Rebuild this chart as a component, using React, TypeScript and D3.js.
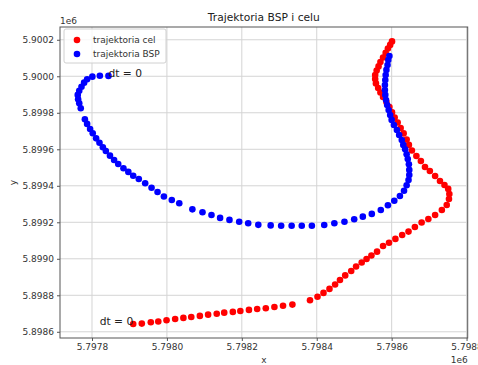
import React, { useEffect, useRef } from 'react';
import * as d3 from 'd3';

// target trajectory (trajektoria cel), metres
const celX = [
  5797910, 5797933, 5797957, 5797977, 5797999, 5798022, 5798044, 5798065, 5798088, 5798110,
  5798133, 5798153, 5798176, 5798196, 5798219, 5798241, 5798264, 5798287, 5798310, 5798335,
  5798382, 5798402, 5798418, 5798434, 5798449, 5798462, 5798476, 5798492, 5798505, 5798520,
  5798533, 5798546, 5798561, 5798577, 5798593, 5798610, 5798628, 5798645, 5798662, 5798680,
  5798698, 5798716, 5798734, 5798747, 5798753, 5798754, 5798751, 5798741, 5798729, 5798716,
  5798702, 5798689, 5798678, 5798666, 5798654, 5798646, 5798640, 5798632, 5798624, 5798616,
  5798608, 5798601, 5798594, 5798586, 5798577, 5798570, 5798564, 5798558, 5798556, 5798556,
  5798560, 5798565, 5798570, 5798577, 5798584, 5798590, 5798596, 5798601,
];
const celY = [
  5898643, 5898645, 5898652, 5898656, 5898663, 5898670, 5898676, 5898681, 5898687, 5898694,
  5898699, 5898705, 5898709, 5898714, 5898720, 5898725, 5898729, 5898736, 5898743, 5898749,
  5898773, 5898792, 5898813, 5898835, 5898859, 5898884, 5898909, 5898933, 5898958, 5898980,
  5898999, 5899018, 5899039, 5899070, 5899088, 5899109, 5899130, 5899149, 5899174, 5899199,
  5899218, 5899240, 5899267, 5899295, 5899328, 5899355, 5899383, 5899404, 5899426, 5899454,
  5899481, 5899503, 5899536, 5899563, 5899593, 5899624, 5899654, 5899687, 5899717, 5899747,
  5899774, 5899802, 5899832, 5899859, 5899887, 5899911, 5899936, 5899961, 5899985, 5900007,
  5900032, 5900054, 5900078, 5900103, 5900128, 5900152, 5900172, 5900191,
];

// BSP trajectory (trajektoria BSP)
const bspX = [
  5797844, 5797821, 5797801, 5797787, 5797779, 5797772, 5797766, 5797762, 5797763, 5797766,
  5797770, 5797781, 5797787, 5797795, 5797802, 5797811, 5797820, 5797829, 5797837, 5797848,
  5797859, 5797870, 5797884, 5797897, 5797910, 5797925, 5797942, 5797959, 5797975, 5797992,
  5798013, 5798033, 5798068, 5798095, 5798119, 5798142, 5798167, 5798193, 5798217, 5798244,
  5798277, 5798305, 5798333, 5798360, 5798387, 5798420, 5798447, 5798474, 5798500, 5798523,
  5798547, 5798571, 5798590, 5798607, 5798622, 5798633, 5798640, 5798645, 5798647, 5798647,
  5798646, 5798643, 5798640, 5798636, 5798631, 5798627, 5798620, 5798614, 5798606, 5798600,
  5798596, 5798592, 5798588, 5798585, 5798583, 5798582, 5798582, 5798583, 5798584, 5798586,
  5798589, 5798591, 5798594,
];
const bspY = [
  5900002, 5900003, 5899998, 5899984, 5899965, 5899943, 5899921, 5899898, 5899874, 5899852,
  5899825, 5899764, 5899739, 5899711, 5899688, 5899660, 5899636, 5899611, 5899591, 5899565,
  5899541, 5899519, 5899496, 5899476, 5899455, 5899437, 5899414, 5899389, 5899366, 5899341,
  5899322, 5899304, 5899271, 5899255, 5899240, 5899224, 5899213, 5899203, 5899195, 5899186,
  5899183, 5899181, 5899181, 5899181, 5899181, 5899185, 5899195, 5899203, 5899217, 5899231,
  5899246, 5899267, 5899293, 5899318, 5899344, 5899373, 5899403, 5899432, 5899459, 5899487,
  5899518, 5899547, 5899573, 5899600, 5899624, 5899651, 5899678, 5899706, 5899733, 5899761,
  5899788, 5899815, 5899843, 5899870, 5899898, 5899925, 5899952, 5899980, 5900007, 5900035,
  5900062, 5900089, 5900111,
];

const xTicks = [5797800, 5798000, 5798200, 5798400, 5798600, 5798800];
const yTicks = [5898600, 5898800, 5899000, 5899200, 5899400, 5899600, 5899800, 5900000, 5900200];
const legendLabels = ['trajektoria cel', 'trajektoria BSP'];
const colors = ['#ff0000', '#0000ff'];

const App: React.FC = () => {
  const svgRef = useRef<SVGSVGElement | null>(null);

  useEffect(() => {
    if (!svgRef.current) return;
    const width = 478;
    const height = 365;
    const margin = { top: 27, right: 10.3, bottom: 27, left: 60 };
    const font = 'DejaVu Sans, sans-serif';

    const svg = d3.select(svgRef.current);
    svg.selectAll('*').remove();

    const x = d3.scaleLinear().domain([5797714.6, 5798803]).range([margin.left, width - margin.right]);
    const y = d3.scaleLinear().domain([5898566, 5900270]).range([height - margin.bottom, margin.top]);

    const g = svg.append('g');

    // grid
    g.selectAll('.gx').data(xTicks).enter().append('line')
      .attr('x1', d => x(d)).attr('x2', d => x(d))
      .attr('y1', margin.top).attr('y2', height - margin.bottom)
      .attr('stroke', '#d4d4d4').attr('stroke-width', 1);
    g.selectAll('.gy').data(yTicks).enter().append('line')
      .attr('x1', margin.left).attr('x2', width - margin.right)
      .attr('y1', d => y(d)).attr('y2', d => y(d))
      .attr('stroke', '#d4d4d4').attr('stroke-width', 1);

    // axes
    const xAxis = d3.axisBottom(x).tickValues(xTicks).tickSize(3).tickPadding(3)
      .tickFormat(d => (Number(d) / 1e6).toFixed(4));
    const yAxis = d3.axisLeft(y).tickValues(yTicks).tickSize(3).tickPadding(3)
      .tickFormat(d => (Number(d) / 1e6).toFixed(4));

    const gx = g.append('g').attr('transform', `translate(0,${height - margin.bottom})`).call(xAxis);
    const gy = g.append('g').attr('transform', `translate(${margin.left},0)`).call(yAxis);
    [gx, gy].forEach(ax => {
      ax.select('.domain').remove();
      ax.selectAll('line').attr('stroke', '#555');
      ax.selectAll('text').attr('font-family', font).attr('font-size', 9).attr('fill', '#333');
    });

    // frame
    g.append('rect')
      .attr('x', margin.left).attr('y', margin.top)
      .attr('width', width - margin.left - margin.right)
      .attr('height', height - margin.top - margin.bottom)
      .attr('fill', 'none').attr('stroke', '#555').attr('stroke-width', 1);

    // points
    const series = [
      { xs: celX, ys: celY, color: colors[0] },
      { xs: bspX, ys: bspY, color: colors[1] },
    ];
    series.forEach(s => {
      g.append('g').selectAll('circle').data(s.xs).enter().append('circle')
        .attr('cx', d => x(d)).attr('cy', (_d, i) => y(s.ys[i]))
        .attr('r', 3.3).attr('fill', s.color);
    });

    // dt = 0 annotations
    g.append('text').attr('x', x(bspX[0])).attr('y', y(bspY[0]) + 1)
      .attr('font-family', font).attr('font-size', 10.7).attr('fill', '#222').text('dt = 0');
    g.append('text').attr('x', x(celX[0])).attr('y', y(celY[0]) + 1).attr('text-anchor', 'end')
      .attr('font-family', font).attr('font-size', 10.7).attr('fill', '#222').text('dt = 0');

    // title & labels
    const cx = (margin.left + width - margin.right) / 2;
    svg.append('text').attr('x', cx).attr('y', 21).attr('text-anchor', 'middle')
      .attr('font-family', font).attr('font-size', 10.7).attr('fill', '#222').text('Trajektoria BSP i celu');
    svg.append('text').attr('x', cx).attr('y', 363).attr('text-anchor', 'middle')
      .attr('font-family', font).attr('font-size', 9).attr('fill', '#333').text('x');
    svg.append('text').attr('transform', `translate(16,${(margin.top + height - margin.bottom) / 2}) rotate(-90)`)
      .attr('text-anchor', 'middle')
      .attr('font-family', font).attr('font-size', 9).attr('fill', '#333').text('y');
    svg.append('text').attr('x', margin.left).attr('y', 24)
      .attr('font-family', font).attr('font-size', 9).attr('fill', '#333').text('1e6');
    svg.append('text').attr('x', width - margin.right).attr('y', 363).attr('text-anchor', 'end')
      .attr('font-family', font).attr('font-size', 9).attr('fill', '#333').text('1e6');

    // legend
    const lg = g.append('g').attr('transform', `translate(${margin.left + 4},${margin.top + 2})`);
    lg.append('rect').attr('width', 102).attr('height', 34).attr('rx', 2)
      .attr('fill', 'white').attr('fill-opacity', 0.8).attr('stroke', '#d0d0d0');
    legendLabels.forEach((label, i) => {
      lg.append('circle').attr('cx', 13).attr('cy', 11 + i * 14).attr('r', 3.3).attr('fill', colors[i]);
      lg.append('text').attr('x', 29).attr('y', 14 + i * 14)
        .attr('font-family', font).attr('font-size', 9).attr('fill', '#333').text(label);
    });
  }, []);

  return (
    <div style={{ position: 'absolute', left: 0, top: 0, background: 'white' }}>
      <svg ref={svgRef} width={478} height={365} />
    </div>
  );
};

export default App;
